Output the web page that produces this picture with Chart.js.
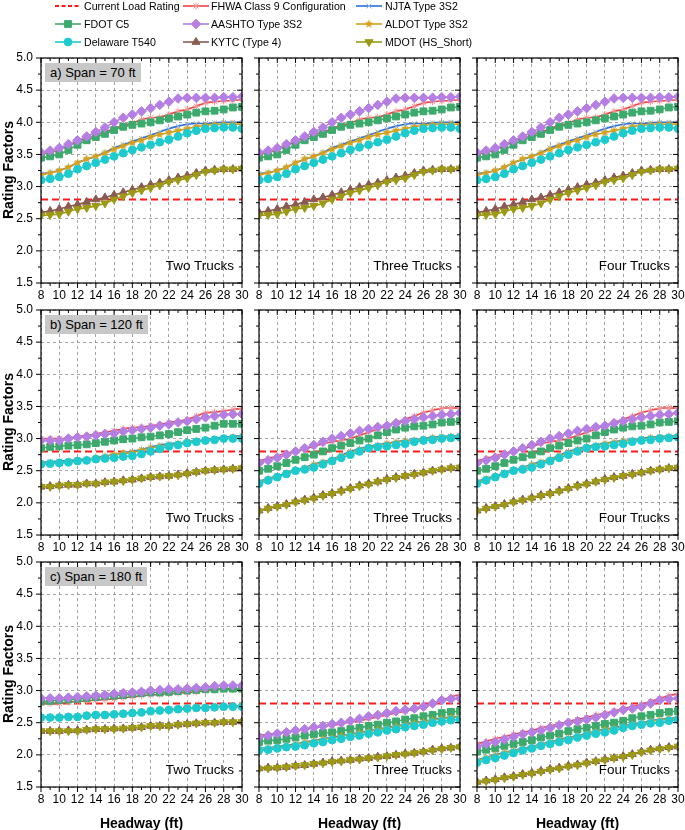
<!DOCTYPE html>
<html>
<head>
<meta charset="utf-8">
<script src="https://cdn.jsdelivr.net/npm/chart.js@4.4.0/dist/chart.umd.min.js"></script>
<style>
body { margin: 0; background: #fff; font-family: Arial, "Liberation Sans", sans-serif; }
#fig { position: relative; width: 685px; height: 830px; overflow: hidden; background: #fff; }
.panel { position: absolute; }
.tag { position: absolute; background: #c8c8c8; font-size: 13px; line-height: 19px; padding: 0 5px; color: #000; white-space: nowrap; }
.trucks { position: absolute; font-size: 13.5px; color: #000; white-space: nowrap; }
.ytitle { position: absolute; width: 140px; text-align: center; font-weight: bold; font-size: 14px; transform: rotate(-90deg); white-space: nowrap; }
.xtitle { position: absolute; width: 160px; text-align: center; font-weight: bold; font-size: 14px; white-space: nowrap; }
.legsym { position: absolute; }
.legtxt { position: absolute; font-size: 11.8px; line-height: 14px; white-space: nowrap; color: #000; transform: scaleX(0.9); transform-origin: left center; }
</style>
</head>
<body>
<div id="fig"></div>
<script>
// headway values (ft)
const HEADWAY = [8, 9, 10, 11, 12, 13, 14, 15, 16, 17, 18, 19, 20, 21, 22, 23, 24, 25, 26, 27, 28, 29, 30];
const CURRENT_RF = 2.8;
const X_TICKS = [8, 10, 12, 14, 16, 18, 20, 22, 24, 26, 28, 30];
const Y_TICKS = [1.5, 2.0, 2.5, 3.0, 3.5, 4.0, 4.5, 5.0];

const SERIES_NAMES = ['Current Load Rating', 'FHWA Class 9 Configuration', 'NJTA Type 3S2',
    'FDOT C5', 'AASHTO Type 3S2', 'ALDOT Type 3S2',
    'Delaware T540', 'KYTC (Type 4)', 'MDOT (HS_Short)'];

// span = 70 ft (same picture for two, three and four trucks)
const S70_FHWA   = [3.50,3.53,3.57,3.63,3.70,3.75,3.80,3.85,3.90,3.95,3.99,4.04,4.07,4.08,4.12,4.17,4.20,4.25,4.30,4.32,4.33,4.34,4.35];
const S70_NJTA   = [3.20,3.22,3.25,3.30,3.37,3.42,3.47,3.53,3.60,3.65,3.70,3.75,3.80,3.85,3.90,3.94,3.97,3.98,3.98,3.99,4.00,4.00,4.00];
const S70_FDOT   = [3.45,3.47,3.50,3.57,3.65,3.72,3.77,3.82,3.88,3.93,3.96,3.98,4.00,4.03,4.06,4.09,4.12,4.15,4.17,4.18,4.20,4.23,4.24];
const S70_AASHTO = [3.53,3.56,3.60,3.66,3.72,3.78,3.85,3.92,4.00,4.07,4.12,4.17,4.22,4.27,4.32,4.37,4.38,4.38,4.38,4.38,4.39,4.39,4.40];
const S70_ALDOT  = [3.18,3.21,3.25,3.30,3.37,3.43,3.47,3.52,3.58,3.63,3.68,3.72,3.77,3.81,3.84,3.87,3.90,3.93,3.95,3.96,3.97,3.97,3.97];
const S70_DEL    = [3.10,3.12,3.15,3.20,3.27,3.32,3.37,3.42,3.47,3.52,3.57,3.61,3.65,3.69,3.73,3.78,3.83,3.87,3.90,3.91,3.92,3.92,3.90];
const S70_KYTC   = [2.60,2.62,2.65,2.69,2.72,2.76,2.80,2.83,2.87,2.91,2.95,2.99,3.03,3.06,3.10,3.14,3.17,3.21,3.25,3.26,3.27,3.27,3.28];
const S70_MDOT   = [2.55,2.56,2.57,2.61,2.65,2.67,2.70,2.74,2.80,2.85,2.90,2.94,2.98,3.02,3.07,3.10,3.13,3.18,3.23,3.25,3.27,3.27,3.28];

// span = 120 ft, two trucks
const S120T2_FHWA   = [3.00,3.00,3.00,3.01,3.03,3.05,3.07,3.10,3.12,3.15,3.17,3.18,3.20,3.22,3.25,3.27,3.30,3.35,3.40,3.41,3.43,3.45,3.47];
const S120T2_NJTA   = [2.63,2.64,2.65,2.66,2.67,2.68,2.70,2.73,2.75,2.78,2.80,2.83,2.87,2.90,2.92,2.93,2.95,2.97,2.98,3.00,3.02,3.03,3.05];
const S120T2_FDOT   = [2.85,2.87,2.88,2.89,2.90,2.91,2.93,2.95,2.97,2.99,3.00,3.02,3.03,3.05,3.07,3.10,3.13,3.15,3.17,3.20,3.23,3.23,3.23];
const S120T2_AASHTO = [2.97,2.97,2.97,3.00,3.02,3.03,3.05,3.07,3.08,3.11,3.13,3.15,3.17,3.20,3.22,3.25,3.27,3.30,3.33,3.35,3.37,3.38,3.38];
const S120T2_ALDOT  = [2.62,2.62,2.63,2.64,2.65,2.67,2.70,2.72,2.75,2.77,2.78,2.82,2.85,2.88,2.90,2.92,2.95,2.96,2.97,2.98,3.00,3.02,3.03];
const S120T2_DEL    = [2.60,2.61,2.62,2.63,2.65,2.66,2.68,2.69,2.70,2.72,2.73,2.76,2.80,2.84,2.88,2.90,2.93,2.95,2.97,2.98,3.00,3.00,3.00];
const S120T2_KYTC   = [2.25,2.26,2.27,2.28,2.28,2.30,2.30,2.32,2.33,2.35,2.36,2.38,2.40,2.41,2.42,2.44,2.46,2.48,2.50,2.51,2.52,2.53,2.54];
const S120T2_MDOT   = [2.25,2.25,2.27,2.28,2.28,2.30,2.30,2.32,2.33,2.34,2.36,2.38,2.40,2.41,2.42,2.43,2.45,2.48,2.50,2.51,2.52,2.53,2.54];

// span = 120 ft, three and four trucks
const S120T3_FHWA   = [2.65,2.69,2.73,2.77,2.80,2.84,2.88,2.92,2.95,2.97,3.00,3.05,3.10,3.15,3.20,3.25,3.30,3.35,3.40,3.44,3.47,3.48,3.47];
const S120T3_NJTA   = [2.33,2.38,2.42,2.46,2.50,2.55,2.60,2.64,2.68,2.74,2.80,2.84,2.88,2.90,2.93,2.95,2.97,2.98,3.00,3.02,3.03,3.04,3.05];
const S120T3_FDOT   = [2.50,2.53,2.57,2.62,2.67,2.71,2.75,2.80,2.85,2.89,2.93,2.97,3.00,3.05,3.10,3.14,3.17,3.19,3.20,3.22,3.25,3.26,3.27];
const S120T3_AASHTO = [2.62,2.66,2.70,2.75,2.80,2.85,2.90,2.95,3.00,3.04,3.08,3.12,3.15,3.18,3.20,3.24,3.27,3.30,3.33,3.35,3.37,3.38,3.40];
const S120T3_ALDOT  = [2.32,2.37,2.41,2.45,2.50,2.54,2.59,2.63,2.67,2.73,2.78,2.83,2.87,2.89,2.92,2.94,2.96,2.97,2.99,3.01,3.02,3.03,3.04];
const S120T3_DEL    = [2.30,2.35,2.40,2.45,2.50,2.52,2.55,2.60,2.65,2.70,2.75,2.80,2.85,2.87,2.88,2.90,2.92,2.95,2.97,2.98,3.00,3.01,3.02];
const S120T3_KYTC   = [1.88,1.92,1.95,1.98,2.02,2.05,2.08,2.12,2.15,2.19,2.23,2.27,2.30,2.33,2.37,2.40,2.42,2.45,2.47,2.50,2.52,2.54,2.55];
const S120T3_MDOT   = [1.87,1.91,1.94,1.97,2.01,2.04,2.07,2.11,2.14,2.18,2.22,2.26,2.29,2.33,2.36,2.39,2.42,2.44,2.47,2.50,2.52,2.54,2.55];

// span = 180 ft, two trucks
const S180T2_FHWA   = [2.80,2.80,2.80,2.82,2.83,2.84,2.85,2.86,2.87,2.89,2.90,2.92,2.93,2.94,2.95,2.96,2.97,2.98,3.00,3.01,3.02,3.02,3.03];
const S180T2_NJTA   = [2.59,2.59,2.59,2.60,2.60,2.61,2.62,2.63,2.63,2.64,2.65,2.66,2.68,2.69,2.70,2.71,2.72,2.73,2.74,2.75,2.75,2.76,2.76];
const S180T2_FDOT   = [2.83,2.84,2.85,2.86,2.87,2.88,2.90,2.91,2.92,2.93,2.95,2.96,2.97,2.97,2.98,2.99,3.00,3.01,3.02,3.02,3.03,3.03,3.03];
const S180T2_AASHTO = [2.88,2.88,2.88,2.89,2.90,2.91,2.92,2.93,2.95,2.96,2.97,2.98,3.00,3.01,3.02,3.02,3.03,3.04,3.05,3.07,3.08,3.08,3.08];
const S180T2_ALDOT  = [2.58,2.58,2.58,2.59,2.60,2.61,2.62,2.62,2.63,2.64,2.65,2.66,2.67,2.69,2.70,2.71,2.72,2.73,2.74,2.74,2.75,2.75,2.75];
const S180T2_DEL    = [2.58,2.58,2.58,2.59,2.59,2.61,2.62,2.62,2.63,2.64,2.65,2.66,2.68,2.69,2.70,2.71,2.72,2.73,2.73,2.74,2.75,2.75,2.75];
const S180T2_KYTC   = [2.37,2.37,2.37,2.38,2.38,2.39,2.40,2.40,2.41,2.41,2.42,2.43,2.45,2.45,2.45,2.47,2.48,2.49,2.50,2.50,2.51,2.51,2.52];
const S180T2_MDOT   = [2.37,2.37,2.37,2.37,2.37,2.39,2.40,2.40,2.40,2.41,2.42,2.43,2.45,2.45,2.45,2.47,2.48,2.49,2.50,2.50,2.51,2.51,2.51];

// span = 180 ft, three trucks
const S180T3_FHWA   = [2.30,2.32,2.34,2.36,2.38,2.40,2.42,2.44,2.46,2.48,2.51,2.53,2.56,2.59,2.62,2.65,2.68,2.71,2.74,2.80,2.85,2.90,2.94];
const S180T3_NJTA   = [2.10,2.11,2.13,2.15,2.17,2.20,2.22,2.25,2.27,2.30,2.32,2.35,2.37,2.40,2.42,2.45,2.47,2.50,2.52,2.55,2.57,2.59,2.60];
const S180T3_FDOT   = [2.20,2.22,2.23,2.25,2.27,2.30,2.32,2.34,2.35,2.37,2.40,2.42,2.45,2.47,2.50,2.52,2.55,2.57,2.60,2.62,2.65,2.67,2.68];
const S180T3_AASHTO = [2.28,2.30,2.33,2.35,2.38,2.40,2.43,2.45,2.48,2.50,2.53,2.56,2.60,2.62,2.65,2.68,2.70,2.72,2.75,2.80,2.85,2.87,2.88];
const S180T3_ALDOT  = [2.09,2.10,2.12,2.14,2.16,2.19,2.21,2.24,2.26,2.29,2.31,2.34,2.36,2.39,2.41,2.44,2.46,2.49,2.51,2.54,2.56,2.58,2.59];
const S180T3_DEL    = [2.07,2.08,2.10,2.12,2.13,2.15,2.18,2.20,2.23,2.25,2.28,2.30,2.33,2.35,2.38,2.40,2.43,2.45,2.47,2.50,2.52,2.54,2.55];
const S180T3_KYTC   = [1.79,1.80,1.80,1.81,1.83,1.84,1.86,1.88,1.90,1.91,1.92,1.94,1.95,1.97,1.98,2.00,2.02,2.03,2.05,2.08,2.10,2.11,2.13];
const S180T3_MDOT   = [1.78,1.79,1.80,1.81,1.83,1.84,1.86,1.87,1.89,1.90,1.92,1.93,1.95,1.96,1.98,2.00,2.01,2.03,2.05,2.07,2.09,2.11,2.12];

// span = 180 ft, four trucks
const S180T4_FHWA   = [2.17,2.21,2.25,2.28,2.32,2.35,2.38,2.42,2.45,2.48,2.52,2.55,2.58,2.62,2.65,2.68,2.72,2.75,2.78,2.83,2.88,2.92,2.95];
const S180T4_NJTA   = [1.92,1.96,2.00,2.04,2.07,2.10,2.13,2.17,2.20,2.24,2.27,2.30,2.33,2.37,2.40,2.42,2.45,2.48,2.50,2.53,2.55,2.57,2.58];
const S180T4_FDOT   = [2.05,2.08,2.10,2.14,2.17,2.20,2.23,2.27,2.30,2.33,2.37,2.40,2.42,2.45,2.48,2.50,2.53,2.57,2.60,2.62,2.65,2.67,2.68];
const S180T4_AASHTO = [2.13,2.17,2.20,2.24,2.28,2.32,2.35,2.38,2.42,2.46,2.50,2.52,2.55,2.58,2.62,2.66,2.70,2.72,2.75,2.80,2.85,2.87,2.88];
const S180T4_ALDOT  = [1.91,1.95,1.99,2.03,2.06,2.09,2.12,2.16,2.19,2.23,2.26,2.29,2.32,2.36,2.39,2.41,2.44,2.47,2.49,2.52,2.54,2.56,2.57];
const S180T4_DEL    = [1.88,1.92,1.95,1.99,2.03,2.07,2.10,2.14,2.17,2.20,2.23,2.27,2.30,2.33,2.35,2.38,2.42,2.45,2.47,2.49,2.50,2.53,2.55];
const S180T4_KYTC   = [1.58,1.60,1.62,1.65,1.67,1.70,1.72,1.75,1.78,1.80,1.83,1.85,1.88,1.90,1.93,1.95,1.98,2.01,2.05,2.08,2.10,2.12,2.13];
const S180T4_MDOT   = [1.57,1.59,1.61,1.64,1.66,1.69,1.71,1.74,1.77,1.79,1.82,1.84,1.87,1.90,1.92,1.95,1.97,2.00,2.04,2.07,2.09,2.11,2.13];

const SET_70    = [S70_FHWA, S70_NJTA, S70_FDOT, S70_AASHTO, S70_ALDOT, S70_DEL, S70_KYTC, S70_MDOT];
const SET_120T2 = [S120T2_FHWA, S120T2_NJTA, S120T2_FDOT, S120T2_AASHTO, S120T2_ALDOT, S120T2_DEL, S120T2_KYTC, S120T2_MDOT];
const SET_120T3 = [S120T3_FHWA, S120T3_NJTA, S120T3_FDOT, S120T3_AASHTO, S120T3_ALDOT, S120T3_DEL, S120T3_KYTC, S120T3_MDOT];
const SET_180T2 = [S180T2_FHWA, S180T2_NJTA, S180T2_FDOT, S180T2_AASHTO, S180T2_ALDOT, S180T2_DEL, S180T2_KYTC, S180T2_MDOT];
const SET_180T3 = [S180T3_FHWA, S180T3_NJTA, S180T3_FDOT, S180T3_AASHTO, S180T3_ALDOT, S180T3_DEL, S180T3_KYTC, S180T3_MDOT];
const SET_180T4 = [S180T4_FHWA, S180T4_NJTA, S180T4_FDOT, S180T4_AASHTO, S180T4_ALDOT, S180T4_DEL, S180T4_KYTC, S180T4_MDOT];

const PANELS = [
    { row: 0, col: 0, tag: 'a) Span = 70 ft',  trucks: 'Two Trucks',   data: SET_70 },
    { row: 0, col: 1, tag: null,               trucks: 'Three Trucks', data: SET_70 },
    { row: 0, col: 2, tag: null,               trucks: 'Four Trucks',  data: SET_70 },
    { row: 1, col: 0, tag: 'b) Span = 120 ft', trucks: 'Two Trucks',   data: SET_120T2 },
    { row: 1, col: 1, tag: null,               trucks: 'Three Trucks', data: SET_120T3 },
    { row: 1, col: 2, tag: null,               trucks: 'Four Trucks',  data: SET_120T3 },
    { row: 2, col: 0, tag: 'c) Span = 180 ft', trucks: 'Two Trucks',   data: SET_180T2 },
    { row: 2, col: 1, tag: null,               trucks: 'Three Trucks', data: SET_180T3 },
    { row: 2, col: 2, tag: null,               trucks: 'Four Trucks',  data: SET_180T4 }
];

// layout
const COL_LEFT = [41, 259, 477];
const ROW_TOP = [58, 310, 562];
const PW = 201, PH = 225;

function makeStar(color, r) {
    const c = document.createElement('canvas');
    const s = Math.ceil(r * 2 + 2);
    c.width = s; c.height = s;
    const g = c.getContext('2d');
    g.fillStyle = color;
    g.beginPath();
    for (let i = 0; i < 10; i++) {
        const rr = i % 2 === 0 ? r : r * 0.45;
        const a = -Math.PI / 2 + i * Math.PI / 5;
        g.lineTo(s / 2 + rr * Math.cos(a), s / 2 + rr * Math.sin(a));
    }
    g.closePath();
    g.fill();
    return c;
}

// styles for the 8 truck series, in legend order after "Current Load Rating"
const STYLES = [
    { line: '#EE4040', fill: '#F7A3A3', stroke: '#F59595', pointStyle: 'star',     radius: 3.5, rotation: 0 },
    { line: '#2E6FD8', fill: '#8DB6EE', stroke: '#86B1EC', pointStyle: 'crossRot', radius: 3.5, rotation: 0 },
    { line: '#3BAA6C', fill: '#3BAA6C', stroke: '#3BAA6C', pointStyle: 'rect',     radius: 4.8, rotation: 0 },
    { line: '#B57EE2', fill: '#B57EE2', stroke: '#B57EE2', pointStyle: 'rectRot',  radius: 4.8, rotation: 0 },
    { line: '#D4A11C', fill: '#D4A11C', stroke: '#D4A11C', pointStyle: makeStar('#D4A11C', 4.5), radius: 4.5, rotation: 0 },
    { line: '#1DCBCF', fill: '#1DCBCF', stroke: '#1DCBCF', pointStyle: 'circle',   radius: 3.9, rotation: 0 },
    { line: '#8A5A52', fill: '#8A5A52', stroke: '#8A5A52', pointStyle: 'triangle', radius: 4.6, rotation: 0 },
    { line: '#9C9A14', fill: '#9C9A14', stroke: '#9C9A14', pointStyle: 'triangle', radius: 4.6, rotation: 180 }
];
const CURRENT_STYLE = { line: '#FF1A1A', dash: [7, 4] };

Chart.defaults.font.family = 'Arial, "Liberation Sans", sans-serif';
Chart.defaults.font.size = 12;
Chart.defaults.color = '#000';

const frameTicks = {
    id: 'frameTicks',
    afterDatasetsDraw(chart) {
        const { ctx, chartArea: a, scales: { x, y } } = chart;
        ctx.save();
        ctx.strokeStyle = '#000';
        ctx.lineWidth = 1.2;
        ctx.strokeRect(a.left, a.top, a.right - a.left, a.bottom - a.top);
        ctx.lineWidth = 1;
        ctx.beginPath();
        for (let v = HEADWAY[0]; v <= HEADWAY[HEADWAY.length - 1]; v += 1) {
            const px = x.getPixelForValue(v);
            const len = (v % 2 === 0) ? 5 : 3;
            ctx.moveTo(px, a.bottom); ctx.lineTo(px, a.bottom + len);
            ctx.moveTo(px, a.top); ctx.lineTo(px, a.top + len);
        }
        for (let k = 0; k <= 14; k++) {
            const py = y.getPixelForValue(Y_TICKS[0] + k * 0.25);
            const len = (k % 2 === 0) ? 5 : 3;
            ctx.moveTo(a.left, py); ctx.lineTo(a.left - len, py);
            ctx.moveTo(a.right, py); ctx.lineTo(a.right - len, py);
        }
        ctx.stroke();
        ctx.restore();
    }
};

const fig = document.getElementById('fig');

function buildDatasets(set) {
    const ds = [{
        label: SERIES_NAMES[0],
        data: [{ x: HEADWAY[0], y: CURRENT_RF }, { x: HEADWAY[HEADWAY.length - 1], y: CURRENT_RF }],
        borderColor: CURRENT_STYLE.line,
        borderWidth: 2,
        borderDash: CURRENT_STYLE.dash,
        pointRadius: 0,
        order: 9
    }];
    set.forEach((vals, i) => {
        const st = STYLES[i];
        ds.push({
            label: SERIES_NAMES[i + 1],
            data: HEADWAY.map((h, j) => ({ x: h, y: vals[j] })),
            borderColor: st.line,
            borderWidth: 1.6,
            cubicInterpolationMode: 'monotone',
            pointStyle: st.pointStyle,
            pointRadius: st.radius,
            pointRotation: st.rotation,
            pointBackgroundColor: st.fill,
            pointBorderColor: st.stroke,
            pointBorderWidth: 1,
            order: 8 - i
        });
    });
    return ds;
}

PANELS.forEach(p => {
    const first = p.col === 0;
    const padL = first ? 0 : 8;
    const axisW = first ? 41 : 0;
    const padT = 10, padR = 10, axisH = 24;
    const w = padL + axisW + PW + padR;
    const h = padT + PH + axisH;
    const div = document.createElement('div');
    div.className = 'panel';
    div.style.left = (COL_LEFT[p.col] - axisW - padL) + 'px';
    div.style.top = (ROW_TOP[p.row] - padT) + 'px';
    const cv = document.createElement('canvas');
    cv.width = w; cv.height = h;
    cv.style.width = w + 'px'; cv.style.height = h + 'px';
    div.appendChild(cv);
    fig.appendChild(div);

    new Chart(cv.getContext('2d'), {
        type: 'line',
        data: { datasets: buildDatasets(p.data) },
        options: {
            responsive: false,
            animation: false,
            layout: { padding: { left: padL, top: padT, right: padR, bottom: 0 } },
            plugins: { legend: { display: false }, tooltip: { enabled: false } },
            scales: {
                x: {
                    type: 'linear',
                    min: HEADWAY[0],
                    max: HEADWAY[HEADWAY.length - 1],
                    afterBuildTicks: s => { s.ticks = X_TICKS.map(v => ({ value: v })); },
                    ticks: { padding: 5, maxRotation: 0, autoSkip: false, font: { size: 12 } },
                    grid: { color: '#8f8f8f', lineWidth: 0.8, drawTicks: false },
                    border: { display: false, dash: [3, 3] },
                    afterFit: s => { s.height = axisH; s.paddingLeft = 0; s.paddingRight = 0; }
                },
                y: {
                    min: Y_TICKS[0],
                    max: Y_TICKS[Y_TICKS.length - 1],
                    afterBuildTicks: s => { s.ticks = Y_TICKS.map(v => ({ value: v })); },
                    ticks: { display: first, padding: 8, callback: v => v.toFixed(1), font: { size: 12 } },
                    grid: { color: '#8f8f8f', lineWidth: 0.8, drawTicks: false },
                    border: { display: false, dash: [3, 3] },
                    afterFit: s => { s.width = axisW; s.paddingTop = 0; s.paddingBottom = 0; }
                }
            }
        },
        plugins: [frameTicks]
    });

    if (p.tag) {
        const t = document.createElement('div');
        t.className = 'tag';
        t.textContent = p.tag;
        t.style.left = (COL_LEFT[p.col] + 4) + 'px';
        t.style.top = (ROW_TOP[p.row] + 5) + 'px';
        fig.appendChild(t);
    }
    const tr = document.createElement('div');
    tr.className = 'trucks';
    tr.textContent = p.trucks;
    tr.style.right = (685 - (COL_LEFT[p.col] + PW - 8)) + 'px';
    tr.style.top = (ROW_TOP[p.row] + PH - 25) + 'px';
    fig.appendChild(tr);

    if (first) {
        const yt = document.createElement('div');
        yt.className = 'ytitle';
        yt.textContent = 'Rating Factors';
        yt.style.left = (8 - 70) + 'px';
        yt.style.top = (ROW_TOP[p.row] + PH / 2 - 9) + 'px';
        fig.appendChild(yt);
    }
    if (p.row === 2) {
        const xt = document.createElement('div');
        xt.className = 'xtitle';
        xt.textContent = 'Headway (ft)';
        xt.style.left = (COL_LEFT[p.col] + PW / 2 - 80) + 'px';
        xt.style.top = (ROW_TOP[p.row] + PH + 28) + 'px';
        fig.appendChild(xt);
    }
});

// legend, 3 x 3
const LEG_SYM_X = [55, 183, 356];
const LEG_TXT_X = [84, 211, 385];
const LEG_ROW_Y = [6, 24, 42];
SERIES_NAMES.forEach((name, i) => {
    const r = Math.floor(i / 3), c = i % 3;
    const sym = document.createElement('canvas');
    sym.className = 'legsym';
    sym.width = 26; sym.height = 14;
    sym.style.left = LEG_SYM_X[c] + 'px';
    sym.style.top = (LEG_ROW_Y[r] - 7) + 'px';
    const g = sym.getContext('2d');
    g.lineWidth = i === 0 ? 2 : 1.6;
    if (i === 0) {
        g.strokeStyle = CURRENT_STYLE.line;
        g.setLineDash([4, 2.5]);
    } else {
        g.strokeStyle = STYLES[i - 1].line;
    }
    g.beginPath(); g.moveTo(0, 7); g.lineTo(26, 7); g.stroke();
    g.setLineDash([]);
    if (i > 0) {
        const st = STYLES[i - 1];
        g.fillStyle = st.fill;
        g.strokeStyle = st.stroke;
        g.lineWidth = 1;
        Chart.helpers.drawPoint(g, { pointStyle: st.pointStyle, rotation: st.rotation, radius: st.radius, borderWidth: 1 }, 13, 7);
    }
    fig.appendChild(sym);
    const t = document.createElement('div');
    t.className = 'legtxt';
    t.textContent = name;
    t.style.left = LEG_TXT_X[c] + 'px';
    t.style.top = (LEG_ROW_Y[r] - 7) + 'px';
    fig.appendChild(t);
});
</script>
</body>
</html>
